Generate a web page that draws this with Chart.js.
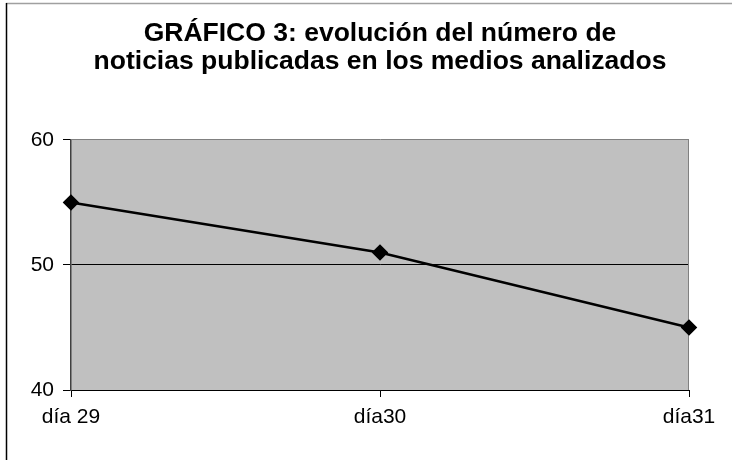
<!DOCTYPE html>
<html>
<head>
<meta charset="utf-8">
<script src="https://cdn.jsdelivr.net/npm/chart.js@4"></script>
<style>
  html, body { margin: 0; padding: 0; background: #fff; }
  #wrap { position: relative; width: 732px; height: 460px; }
</style>
</head>
<body>
<div id="wrap"><canvas id="line-chartcanvas" width="732" height="460"></canvas></div>
<script>
// values
var dias = ["día 29", "día30", "día31"];
var noticias = [55, 51, 45];
var yMin = 40, yMax = 60, yStep = 10;
var titulo = ["GRÁFICO 3: evolución del número de", "noticias publicadas en los medios analizados"];

// gray plot area, frame and the outer border of the picture
var fondo = {
	id: "fondo",
	beforeDraw: function(chart) {
		var c = chart.ctx, a = chart.chartArea;
		c.save();
		c.fillStyle = "#c0c0c0";
		c.fillRect(a.left, a.top, a.right - a.left, a.bottom - a.top);
		// outer border (only top and left are in the picture)
		c.lineWidth = 1.5;
		c.strokeStyle = "#a0a0a0";
		c.beginPath(); c.moveTo(6, 3.5); c.lineTo(732, 3.5); c.stroke();
		c.strokeStyle = "#000";
		c.beginPath(); c.moveTo(6.5, 3); c.lineTo(6.5, 460); c.stroke();
		c.restore();
	},
	beforeDatasetsDraw: function(chart) {
		var c = chart.ctx, a = chart.chartArea;
		c.save();
		c.strokeStyle = "#808080";
		c.lineWidth = 1;
		c.beginPath(); c.moveTo(a.right - 0.5, a.top); c.lineTo(a.right - 0.5, a.bottom); c.stroke();
		c.restore();
	}
};

var ctx = document.getElementById("line-chartcanvas");

var data = {
	labels: dias,
	datasets: [
		{
			label: "noticias",
			data: noticias,
			borderColor: "#000",
			backgroundColor: "#000",
			borderWidth: 2.5,
			fill: false,
			tension: 0,
			pointStyle: "rectRot",
			pointRadius: 6.5,
			pointHoverRadius: 6.5
		}
	]
};

var options = {
	responsive: false,
	animation: false,
	layout: { padding: { left: 0, right: 43, top: 0, bottom: 0 } },
	plugins: {
		legend: { display: false },
		tooltip: { enabled: false },
		title: {
			display: true,
			fullSize: false, // centred over the plot area, like the original
			text: titulo,
			color: "#000",
			font: { family: "'Liberation Sans', Arial, sans-serif", size: 26.5, weight: "bold", lineHeight: 1.0566 },
			padding: { top: 20, bottom: 64 }
		}
	},
	scales: {
		x: {
			offset: false,
			afterFit: function(s) { s.height = 70; },
			border: { color: "#000", width: 1 },
			grid: { drawOnChartArea: false, drawTicks: true, tickLength: 7, tickColor: "#000" },
			ticks: { color: "#000", padding: 8, maxRotation: 0, font: { family: "'Liberation Sans', Arial, sans-serif", size: 21 } }
		},
		y: {
			min: yMin,
			max: yMax,
			afterFit: function(s) { s.width = 71; },
			border: { color: "#404040", width: 1.5 },
			grid: {
				color: function(c) { return c.tick && c.tick.value == yMax ? "#808080" : "#000"; },
				tickColor: "#000",
				tickLength: 8
			},
			ticks: { stepSize: yStep, color: "#000", padding: 9, font: { family: "'Liberation Sans', Arial, sans-serif", size: 21 } }
		}
	}
};

var chart = new Chart(ctx, {
	type: "line",
	data: data,
	options: options,
	plugins: [fondo]
});
</script>
</body>
</html>
